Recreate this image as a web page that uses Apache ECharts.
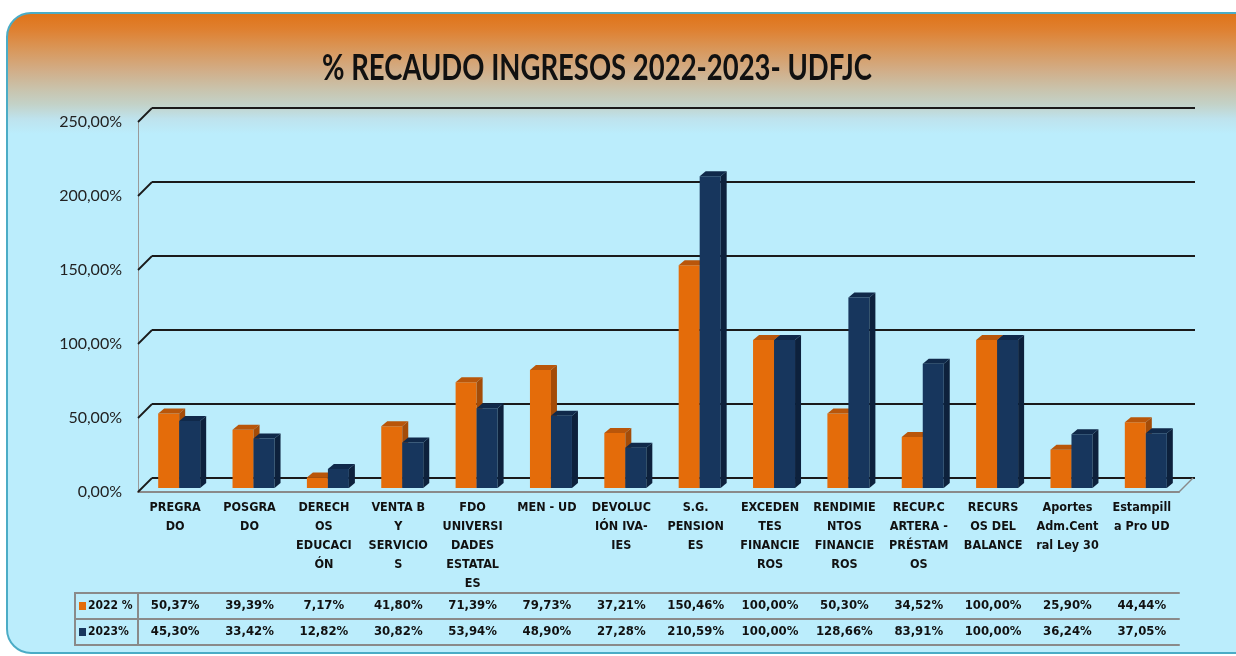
<!DOCTYPE html>
<html>
<head>
<meta charset="utf-8">
<script src="https://cdn.jsdelivr.net/npm/echarts@6/dist/echarts.min.js"></script>
<style>
  html, body { margin: 0; padding: 0; background: #ffffff; }
  #main { width: 1236px; height: 656px; }
</style>
</head>
<body>
<div id="main"></div>
<script>
var categories = ['PREGRA\nDO', 'POSGRA\nDO', 'DERECH\nOS\nEDUCACI\nÓN', 'VENTA B\nY\nSERVICIO\nS',
    'FDO\nUNIVERSI\nDADES\nESTATAL\nES', 'MEN - UD', 'DEVOLUC\nIÓN IVA-\nIES', 'S.G.\nPENSION\nES',
    'EXCEDEN\nTES\nFINANCIE\nROS', 'RENDIMIE\nNTOS\nFINANCIE\nROS', 'RECUP.C\nARTERA -\nPRÉSTAM\nOS',
    'RECURS\nOS DEL\nBALANCE', 'Aportes\nAdm.Cent\nral Ley 30', 'Estampill\na Pro UD'];
var pct2022 = [50.37, 39.39, 7.17, 41.80, 71.39, 79.73, 37.21, 150.46, 100.00, 50.30, 34.52, 100.00, 25.90, 44.44];
var pct2023 = [45.30, 33.42, 12.82, 30.82, 53.94, 48.90, 27.28, 210.59, 100.00, 128.66, 83.91, 100.00, 36.24, 37.05];
var seriesNames = ['2022 %', '2023%'];
var yTicks = [0, 50, 100, 150, 200, 250];
var titleText = '% RECAUDO INGRESOS 2022-2023- UDFJC';

var chart = echarts.init(document.getElementById('main'));

var NARROW = "'Liberation Sans Narrow', 'DejaVu Sans Condensed', 'Liberation Sans', sans-serif";
var BAR_W = 21, DX = 6, DY = 5, DEPTH = 14;
var LINE_GREY = '#8a8a8a';
var orange = ['#e46c0a', '#b9560a', '#a44c08'];
var navy = ['#17365d', '#10294a', '#0d213c'];

function fmt(v) {
    return v.toFixed(2).replace('.', ',') + '%';
}

// title is a condensed bold face in the original, squeeze a regular one to the same width
var TITLE_FONT = 'bold 36px Lato';
var ctx = document.createElement('canvas').getContext('2d');
ctx.font = TITLE_FONT;
var titleScale = 550 / ctx.measureText(titleText).width;

function bar3d(side, colors) {
    return function (params, api) {
        var base = api.coord([api.value(0), 0]);
        var top = api.coord([api.value(0), api.value(1)]);
        var x0 = side < 0 ? base[0] - BAR_W : base[0];
        var x1 = x0 + BAR_W;
        return {
            type: 'group',
            children: [
                { type: 'rect', shape: { x: x0, y: top[1], width: BAR_W, height: base[1] - top[1] }, style: { fill: colors[0] } },
                { type: 'polygon', shape: { points: [[x0, top[1]], [x0 + DX, top[1] - DY], [x1 + DX, top[1] - DY], [x1, top[1]]] }, style: { fill: colors[1] } },
                { type: 'polygon', shape: { points: [[x1, top[1]], [x1 + DX, top[1] - DY], [x1 + DX, base[1] - DY], [x1, base[1]]] }, style: { fill: colors[2] } }
            ]
        };
    };
}

// diagonal joins between front plane and back wall
function stubs(params, api) {
    var p = api.coord([0, api.value(1)]);
    var half = api.size([1, 0])[0] / 2;
    var x0 = p[0] - half;
    var kids = [{ type: 'line', shape: { x1: x0, y1: p[1], x2: x0 + DEPTH, y2: p[1] - DEPTH }, style: { stroke: '#1a1a1a', lineWidth: 1.8 } }];
    if (api.value(1) === 0) {
        var xr = api.coord([categories.length - 1, 0])[0] + half;
        kids.push({ type: 'line', shape: { x1: xr, y1: p[1], x2: xr + DEPTH, y2: p[1] - DEPTH }, style: { stroke: LINE_GREY, lineWidth: 1.5 } });
    }
    return { type: 'group', children: kids };
}

var tableText = { fontFamily: NARROW, fontWeight: 'bold', color: '#111' };

// legend column of the data table
var legendCells = [];
seriesNames.forEach(function (name, i) {
    var y = 593 + i * 26;
    legendCells.push({
        type: 'rect', z: 5,
        shape: { x: 75, y: y, width: 63, height: 26 },
        style: { fill: 'none', stroke: LINE_GREY, lineWidth: 2 }
    });
    legendCells.push({
        type: 'rect', z: 6,
        shape: { x: 79, y: y + 9, width: 7, height: 8 },
        style: { fill: i === 0 ? orange[0] : navy[0] }
    });
    legendCells.push({
        type: 'text', z: 6, x: 88, y: y + 13,
        style: { text: name, fontFamily: NARROW, fontWeight: 'bold', fontSize: 12, fill: '#111', verticalAlign: 'middle' }
    });
});

var option = {
    animation: false,
    graphic: [{
        type: 'rect', z: -10,
        shape: { x: 7, y: 13, width: 1260, height: 640, r: [24, 0, 0, 24] },
        style: {
            stroke: '#4bacc6', lineWidth: 2,
            fill: new echarts.graphic.LinearGradient(0, 0, 0, 1, [
                { offset: 0, color: '#e07216' },
                { offset: 0.027, color: '#df8030' },
                { offset: 0.058, color: '#d9975a' },
                { offset: 0.089, color: '#d2ac85' },
                { offset: 0.12, color: '#c9c3ac' },
                { offset: 0.144, color: '#c3d2c8' },
                { offset: 0.167, color: '#bee3ee' },
                { offset: 0.19, color: '#bbedfc' },
                { offset: 1, color: '#bbedfc' }
            ])
        }
    }, {
        type: 'text', z: 10, x: 597, y: 68, scaleX: titleScale,
        style: { text: titleText, font: TITLE_FONT, fill: '#111', align: 'center', verticalAlign: 'middle' }
    }].concat(legendCells),
    grid: [
        { left: 142, right: 53, top: 118, bottom: 168 },   // bar plane
        { left: 138, right: 57, top: 122, bottom: 164 },   // front plane + table
        { left: 152, right: 41, top: 108, bottom: 178 }    // back wall
    ],
    xAxis: [
        { type: 'category', gridIndex: 0, data: categories, show: false },
        {
            type: 'category', gridIndex: 1, data: categories, position: 'bottom',
            axisLine: { lineStyle: { color: LINE_GREY, width: 2 } },
            axisTick: { interval: 0, length: 153, lineStyle: { color: LINE_GREY, width: 2 } },
            axisLabel: Object.assign({ interval: 0, margin: 6, fontSize: 12.5, lineHeight: 19, verticalAlign: 'top' }, tableText)
        },
        {
            type: 'category', gridIndex: 1, data: categories, position: 'bottom', offset: 101,
            axisLine: { lineStyle: { color: LINE_GREY, width: 2 } },
            axisTick: { show: false },
            axisLabel: Object.assign({ interval: 0, margin: 6, fontSize: 13, lineHeight: 14,
                formatter: function (v, i) { return fmt(pct2022[i]); } }, tableText)
        },
        {
            type: 'category', gridIndex: 1, data: categories, position: 'bottom', offset: 127,
            axisLine: { lineStyle: { color: LINE_GREY, width: 2 } },
            axisTick: { show: false },
            axisLabel: Object.assign({ interval: 0, margin: 6, fontSize: 13, lineHeight: 14,
                formatter: function (v, i) { return fmt(pct2023[i]); } }, tableText)
        },
        {
            type: 'category', gridIndex: 1, data: categories, position: 'bottom', offset: 153,
            axisLine: { lineStyle: { color: LINE_GREY, width: 2 } },
            axisTick: { show: false }, axisLabel: { show: false }
        },
        { type: 'category', gridIndex: 2, data: categories, show: false }
    ],
    yAxis: [
        { type: 'value', gridIndex: 0, min: 0, max: 250, interval: 50, show: false },
        {
            type: 'value', gridIndex: 1, min: 0, max: 250, interval: 50,
            axisLine: { show: true, lineStyle: { color: '#9a9a9a', width: 1 } },
            axisTick: { show: false }, splitLine: { show: false },
            axisLabel: { margin: 16, fontFamily: 'Lato', fontSize: 16, color: '#222', formatter: fmt }
        },
        {
            type: 'value', gridIndex: 2, min: 0, max: 250, interval: 50,
            axisLine: { show: false }, axisTick: { show: false }, axisLabel: { show: false },
            splitLine: { lineStyle: { color: '#1a1a1a', width: 2 } }
        }
    ],
    series: [
        {
            type: 'custom', name: 'stubs', xAxisIndex: 1, yAxisIndex: 1, clip: false, silent: true,
            data: yTicks.map(function (v) { return [0, v]; }), renderItem: stubs
        },
        {
            type: 'custom', name: seriesNames[0], xAxisIndex: 0, yAxisIndex: 0, clip: false,
            data: pct2022.map(function (v, i) { return [i, v]; }), renderItem: bar3d(-1, orange)
        },
        {
            type: 'custom', name: seriesNames[1], xAxisIndex: 0, yAxisIndex: 0, clip: false,
            data: pct2023.map(function (v, i) { return [i, v]; }), renderItem: bar3d(1, navy)
        }
    ]
};

chart.setOption(option);
</script>
</body>
</html>
